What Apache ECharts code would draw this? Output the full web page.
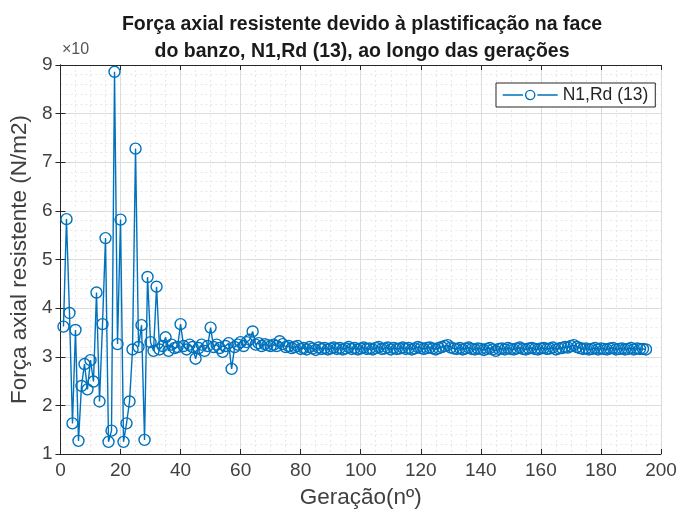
<!DOCTYPE html>
<html><head><meta charset="utf-8">
<script src="https://cdn.jsdelivr.net/npm/echarts@6/dist/echarts.min.js"></script>
<style>html,body{margin:0;padding:0;background:#fff}#c{width:684px;height:515px}</style>
</head><body><div id="c"></div>
<script>
const titleLines = ['Força axial resistente devido à plastificação na face', 'do banzo, N1,Rd (13), ao longo das gerações'];
const seriesName = 'N1,Rd (13)';
const xTicks = [0,20,40,60,80,100,120,140,160,180,200];
const yTicks = [1,2,3,4,5,6,7,8,9];
// values for generations 1..195 (x10^6)
const values = [
 3.62,5.83,3.90,1.63,3.55,1.27,2.40,2.85,2.33,2.93,
 2.49,4.32,2.08,3.67,5.44,1.25,1.48,8.86,3.26,5.82,
 1.25,1.63,2.08,3.15,7.28,3.20,3.65,1.29,4.64,3.30,
 3.12,4.44,3.15,3.22,3.40,3.12,3.25,3.18,3.20,3.67,
 3.22,3.15,3.25,3.20,2.96,3.18,3.25,3.12,3.22,3.60,
 3.20,3.25,3.18,3.10,3.22,3.28,2.75,3.20,3.25,3.30,
 3.22,3.30,3.35,3.52,3.25,3.28,3.22,3.26,3.24,3.22,
 3.25,3.22,3.32,3.26,3.20,3.22,3.18,3.20,3.22,3.16,
 3.18,3.15,3.20,3.17,3.14,3.19,3.16,3.18,3.15,3.17,
 3.19,3.16,3.18,3.15,3.17,3.20,3.16,3.18,3.15,3.17,
 3.19,3.16,3.17,3.15,3.18,3.20,3.16,3.17,3.19,3.15,
 3.18,3.16,3.17,3.19,3.16,3.18,3.15,3.17,3.20,3.18,
 3.16,3.18,3.19,3.17,3.15,3.18,3.20,3.22,3.24,3.19,
 3.17,3.16,3.18,3.15,3.17,3.19,3.16,3.15,3.17,3.16,
 3.14,3.16,3.18,3.15,3.12,3.16,3.17,3.15,3.18,3.16,
 3.15,3.17,3.19,3.16,3.15,3.17,3.18,3.16,3.15,3.17,
 3.18,3.16,3.17,3.19,3.15,3.17,3.18,3.20,3.19,3.22,
 3.24,3.20,3.18,3.16,3.17,3.15,3.16,3.18,3.15,3.17,
 3.16,3.15,3.17,3.18,3.15,3.16,3.17,3.15,3.16,3.18,
 3.15,3.17,3.16,3.16,3.15
];
const pts = values.map((v,i)=>[i+1, v]);
const font = 'Liberation Sans, Arial, Helvetica, sans-serif';
const axisCol = '#262626';
const blue = '#0072BD';
const chart = echarts.init(document.getElementById('c'), null, {renderer:'canvas'});
const baseAxis = {
  axisLine:{show:true, lineStyle:{color:axisCol, width:1}},
  axisTick:{show:true, inside:true, length:5, lineStyle:{color:axisCol}},
};
chart.setOption({
  animation:false,
  backgroundColor:'#fff',
  title:{
    text: titleLines.join('\n'), left:357, top:6, textAlign:'center',
    textStyle:{fontFamily:font, fontSize:19.5, fontWeight:'bold', color:'#1a1a1a', lineHeight:27}
  },
  legend:{
    data:[{name:seriesName, icon:'path://M0,5 L20,5 M34,5 L54,5 M27,0.5 A4.5,4.5 0 1 1 26.99,0.5 Z'}],
    left:496, top:83, itemWidth:55, itemHeight:10, itemGap:4,
    borderColor:'#262626', borderWidth:1, borderRadius:0, padding:[3,7,3,6],
    backgroundColor:'#fff',
    itemStyle:{color:'rgba(0,0,0,0)', borderColor:blue, borderWidth:1.4},
    lineStyle:{color:blue, width:1.4},
    textStyle:{fontFamily:font, fontSize:17.5, color:'#262626'}
  },
  grid:{left:59, right:23, top:65, bottom:61, containLabel:false},
  xAxis:[
    Object.assign({}, baseAxis, {
      type:'value', min:0, max:200, interval:20,
      name:'Geração(nº)', nameLocation:'middle', nameGap:32,
      nameTextStyle:{fontFamily:font, fontSize:22.5, color:'#404040'},
      axisLabel:{fontFamily:font, fontSize:19, color:'#404040', margin:7},
      splitLine:{show:true, lineStyle:{color:'#dcdcdc', width:1}},
      minorTick:{show:false, splitNumber:4},
      minorSplitLine:{show:true, lineStyle:{color:'#e8e8e8', type:[2,3], width:1}}
    }),
    Object.assign({}, baseAxis, {
      type:'value', min:0, max:200, interval:20, position:'top',
      axisLabel:{show:false}, splitLine:{show:false}
    })
  ],
  yAxis:[
    Object.assign({}, baseAxis, {
      type:'value', min:1, max:9, interval:1,
      name:'Força axial resistente (N/m2)', nameLocation:'middle', nameGap:26,
      nameTextStyle:{fontFamily:font, fontSize:22.5, color:'#404040'},
      axisLabel:{fontFamily:font, fontSize:19, color:'#404040', margin:8},
      splitLine:{show:true, lineStyle:{color:'#dcdcdc', width:1}},
      minorTick:{show:false, splitNumber:5},
      minorSplitLine:{show:true, lineStyle:{color:'#e8e8e8', type:[2,3], width:1}}
    }),
    Object.assign({}, baseAxis, {
      type:'value', min:1, max:9, interval:1, position:'right',
      axisLabel:{show:false}, splitLine:{show:false}
    })
  ],
  graphic:[{
    type:'text', left:62, top:42,
    style:{text:'×10', fontFamily:font, fontSize:16, fill:'#555'}
  }],
  series:[{
    name:seriesName, type:'line', data:pts, xAxisIndex:0, yAxisIndex:0,
    symbol:'circle', symbolSize:11, showAllSymbol:true,
    lineStyle:{color:blue, width:1.4},
    itemStyle:{color:'rgba(0,0,0,0)', borderColor:blue, borderWidth:1.4},
    clip:false
  }]
});
</script></body></html>
